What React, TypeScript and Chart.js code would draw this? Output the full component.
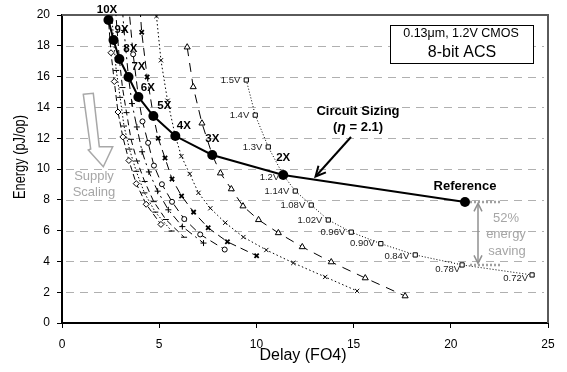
import React, { useEffect, useRef } from "react";
import { Chart, registerables } from "chart.js";

Chart.register(...registerables);

// ---- Circuit sizing curve (1.2V) ----
const sizingLabels = ["10X", "9X", "8X", "7X", "6X", "5X", "4X", "3X", "2X", "Reference"];
const sizingDelay = [2.39, 2.65, 2.95, 3.42, 3.93, 4.7, 5.83, 7.73, 11.38, 20.73];
const sizingEnergy = [19.68, 18.38, 17.14, 15.97, 14.68, 13.44, 12.14, 10.91, 9.61, 7.86];

// ---- Supply scaling curves (one per sizing) ----
const voltageLabels = ["1.5V", "1.4V", "1.3V", "1.2V", "1.14V", "1.08V", "1.02V", "0.96V", "0.90V", "0.84V", "0.78V", "0.72V"];
const delay2X = [9.48, 9.94, 10.61, 11.38, 12.0, 12.82, 13.7, 14.88, 16.4, 18.17, 20.58, 24.18];
const energy2X = [15.78, 13.5, 11.43, 9.61, 8.57, 7.66, 6.69, 5.9, 5.15, 4.42, 3.77, 3.12];
const delay3X = [6.44, 6.75, 7.2, 7.73, 8.15, 8.71, 9.31, 10.11, 11.13, 12.36, 13.85, 15.6, 17.65];
const energy3X = [17.91, 15.33, 12.97, 10.91, 9.73, 8.7, 7.59, 6.7, 5.85, 4.94, 3.96, 2.92, 1.75];
const delay4X = [4.86, 5.09, 5.43, 5.83, 6.14, 6.57, 7.02, 7.63, 8.4, 9.33, 10.51, 11.9, 13.54, 15.18];
const energy4X = [19.93, 17.06, 14.43, 12.14, 10.83, 9.68, 8.45, 7.45, 6.51, 5.58, 4.74, 3.9, 2.99, 2.08];
const delay5X = [3.92, 4.1, 4.38, 4.7, 4.95, 5.3, 5.66, 6.15, 6.77, 7.52, 8.51, 10.01];
const energy5X = [22.07, 18.88, 15.98, 13.44, 11.99, 10.71, 9.35, 8.25, 7.2, 6.18, 5.27, 4.37];
const delay6X = [3.27, 3.43, 3.66, 3.93, 4.14, 4.43, 4.73, 5.14, 5.66, 6.29, 7.11, 8.37];
const energy6X = [24.1, 20.6, 17.45, 14.68, 13.09, 11.7, 10.22, 9.01, 7.87, 6.75, 5.75, 4.77];
const delay7X = [2.85, 2.99, 3.19, 3.42, 3.6, 3.85, 4.12, 4.47, 4.92, 5.47, 6.19, 7.28];
const energy7X = [26.2, 22.4, 19.0, 15.97, 14.25, 12.73, 11.12, 9.81, 8.56, 7.35, 6.26, 5.19];
const delay8X = [2.46, 2.58, 2.75, 2.95, 3.11, 3.32, 3.55, 3.86, 4.25, 4.72, 5.34, 6.28];
const energy8X = [28.1, 24.1, 20.4, 17.14, 15.29, 13.66, 11.93, 10.52, 9.19, 7.88, 6.72, 5.57];
const delay9X = [2.21, 2.31, 2.47, 2.65, 2.79, 2.99, 3.19, 3.47, 3.82, 4.24, 4.8, 5.64];
const energy9X = [30.2, 25.8, 21.85, 18.38, 16.4, 14.65, 12.79, 11.29, 9.85, 8.45, 7.2, 5.97];
const delay10X = [1.99, 2.09, 2.23, 2.39, 2.52, 2.69, 2.88, 3.13, 3.44, 3.82, 4.33, 5.09];
const energy10X = [32.3, 27.65, 23.4, 19.68, 17.55, 15.68, 13.7, 12.08, 10.55, 9.05, 7.71, 6.4];

// ---- Axes ----
const xTicks = [0, 5, 10, 15, 20, 25];
const yTicks = [0, 2, 4, 6, 8, 10, 12, 14, 16, 18, 20];
const xTitle = "Delay (FO4)";
const yTitle = "Energy (pJ/op)";

const FONT = "'Liberation Sans', Arial, Helvetica, sans-serif";

function text(ctx: CanvasRenderingContext2D, s: string, x: number, y: number, font: string, color = "#000", align: CanvasTextAlign = "center") {
  ctx.save();
  ctx.font = font;
  ctx.fillStyle = color;
  ctx.textAlign = align;
  ctx.textBaseline = "middle";
  ctx.fillText(s, x, y);
  ctx.restore();
}

function arrowHead(ctx: CanvasRenderingContext2D, fx: number, fy: number, tx: number, ty: number, len: number, half: number) {
  const ang = Math.atan2(ty - fy, tx - fx);
  const a = Math.atan2(half, len);
  const l = Math.hypot(len, half);
  ctx.beginPath();
  ctx.moveTo(tx - l * Math.cos(ang - a), ty - l * Math.sin(ang - a));
  ctx.lineTo(tx, ty);
  ctx.lineTo(tx - l * Math.cos(ang + a), ty - l * Math.sin(ang + a));
  ctx.stroke();
}

const sizeLabelOffsets = [[-1.5, -10], [8, -10.5], [11, -10], [10, -10], [9.5, -9.5], [11, -10], [8.5, -10], [0, -16], [0, -17.5], [0, -16]];
const voltLabelOffsets = [[-6, 0], [-6, 0], [-6, 0], [-4, 2], [-6, 0], [-6, 0], [-6, 0], [-6, 0], [-6, 0], [-6, 1], [-2, 4], [-4, 3]];

const annotations = {
  id: "annotations",
  beforeDatasetsDraw(chart: any) {
    const { ctx, chartArea: a, scales } = chart;
    const y = scales.y;
    ctx.save();
    ctx.strokeStyle = "#b0b0b0";
    ctx.lineWidth = 1;
    ctx.setLineDash([8, 6]);
    yTicks.forEach((v) => {
      if (v <= 0 || v >= 20) return;
      const py = Math.round(y.getPixelForValue(v)) + 0.5;
      ctx.beginPath();
      ctx.moveTo(a.left + 4, py);
      ctx.lineTo(a.right - 4, py);
      ctx.stroke();
    });
    ctx.setLineDash([]);
    ctx.strokeStyle = "#5a5a5a";
    ctx.lineWidth = 2;
    ctx.beginPath();
    ctx.moveTo(a.left, a.top);
    ctx.lineTo(a.right, a.top);
    ctx.lineTo(a.right, a.bottom);
    ctx.stroke();

    // Supply scaling hollow arrow
    ctx.strokeStyle = "#a8a8a8";
    ctx.fillStyle = "#fff";
    ctx.lineWidth = 1.5;
    ctx.beginPath();
    ctx.moveTo(83.3, 94.3);
    ctx.lineTo(93.3, 93.3);
    ctx.lineTo(99.3, 146.7);
    ctx.lineTo(112.7, 146.7);
    ctx.lineTo(103.3, 166.7);
    ctx.lineTo(88.3, 150);
    ctx.lineTo(90.7, 149);
    ctx.closePath();
    ctx.fill();
    ctx.stroke();
    ctx.restore();
  },
  afterDatasetsDraw(chart: any) {
    const { ctx, scales } = chart;
    const x = scales.x;
    const y = scales.y;
    // voltage labels on the 2X supply curve
    voltageLabels.forEach((s, i) => {
      const px = x.getPixelForValue(delay2X[i]) + voltLabelOffsets[i][0];
      const py = y.getPixelForValue(energy2X[i]) + voltLabelOffsets[i][1];
      text(ctx, s, px, py, `9.5px ${FONT}`, "#222", "right");
    });
    // sizing labels
    sizingLabels.forEach((s, i) => {
      const px = x.getPixelForValue(sizingDelay[i]) + sizeLabelOffsets[i][0];
      const py = y.getPixelForValue(sizingEnergy[i]) + sizeLabelOffsets[i][1];
      text(ctx, s, px, py, `bold ${i === 9 ? 13 : 11.5}px ${FONT}`, "#000");
    });

    ctx.save();
    // Circuit sizing note + arrow
    text(ctx, "Circuit Sizing", 358, 111, `bold 13px ${FONT}`);
    ctx.font = `bold 13px ${FONT}`;
    const p1 = "(", p3 = " = 2.1)";
    ctx.font = `bold 13px ${FONT}`;
    const w1 = ctx.measureText(p1).width, w3 = ctx.measureText(p3).width;
    ctx.font = `italic bold 14px ${FONT}`;
    const w2 = ctx.measureText("η").width;
    let sx = 358 - (w1 + w2 + w3) / 2;
    text(ctx, p1, sx, 127, `bold 13px ${FONT}`, "#000", "left");
    text(ctx, "η", sx + w1, 128, `italic bold 14px ${FONT}`, "#000", "left");
    text(ctx, p3, sx + w1 + w2, 127, `bold 13px ${FONT}`, "#000", "left");
    ctx.strokeStyle = "#000";
    ctx.lineWidth = 2;
    ctx.beginPath();
    ctx.moveTo(351, 137);
    ctx.lineTo(316, 176);
    ctx.stroke();
    arrowHead(ctx, 351, 137, 315.5, 176.5, 10, 5);

    // Supply scaling text
    text(ctx, "Supply", 94, 176, `13px ${FONT}`, "#a6a6a6");
    text(ctx, "Scaling", 94, 192, `13px ${FONT}`, "#a6a6a6");

    // 52% energy saving
    const yRef = y.getPixelForValue(sizingEnergy[9]);
    const yLow = y.getPixelForValue(energy2X[10]);
    ctx.strokeStyle = "#a0a0a0";
    ctx.lineWidth = 2.5;
    ctx.setLineDash([2, 2]);
    ctx.beginPath();
    ctx.moveTo(470, yRef);
    ctx.lineTo(501, yRef);
    ctx.moveTo(470, yLow);
    ctx.lineTo(501, yLow);
    ctx.stroke();
    ctx.setLineDash([]);
    ctx.strokeStyle = "#909090";
    ctx.lineWidth = 1.5;
    ctx.beginPath();
    ctx.moveTo(478, yRef + 2);
    ctx.lineTo(478, yLow - 2);
    ctx.stroke();
    arrowHead(ctx, 478, yLow, 478, yRef + 1.5, 8, 4);
    arrowHead(ctx, 478, yRef, 478, yLow - 1.5, 8, 4);
    text(ctx, "52%", 506, 218, `13px ${FONT}`, "#a6a6a6");
    text(ctx, "energy", 506, 234, `13px ${FONT}`, "#a6a6a6");
    text(ctx, "saving", 507, 251, `13px ${FONT}`, "#a6a6a6");

    // technology box
    ctx.fillStyle = "#fff";
    ctx.fillRect(390, 25, 143, 38);
    ctx.strokeStyle = "#000";
    ctx.lineWidth = 1;
    ctx.strokeRect(390.5, 25.5, 143, 38);
    text(ctx, "0.13μm, 1.2V CMOS", 461, 33.5, `12.5px ${FONT}`);
    text(ctx, "8-bit ACS", 462, 53, `16px ${FONT}`);
    ctx.restore();
  },
  afterDraw(chart: any) {
    const { ctx } = chart;
    text(ctx, xTitle, 303, 356, `16px ${FONT}`);
    ctx.save();
    ctx.translate(21, 157);
    ctx.rotate(-Math.PI / 2);
    ctx.scale(0.8, 1);
    text(ctx, yTitle, 0, 0, `16px ${FONT}`);
    ctx.restore();
  },
};

export default function App() {
  const ref = useRef<HTMLCanvasElement>(null);
  useEffect(() => {
    const canvas = ref.current!;
    const pts = (xs: number[], ys: number[]) => xs.map((v, i) => ({ x: v, y: ys[i] }));
    const curve = (xs: number[], ys: number[], pointStyle: string, dash: number[], extra: any = {}) => ({
      data: pts(xs, ys),
      showLine: true,
      borderColor: "#000",
      borderWidth: 1,
      borderDash: dash,
      pointStyle,
      pointRadius: 3,
      pointBorderColor: "#000",
      pointBackgroundColor: "#fff",
      pointBorderWidth: 1,
      clip: 0,
      tension: 0,
      ...extra,
    });
    const datasets: any[] = [
      {
        data: pts(sizingDelay, sizingEnergy),
        showLine: true,
        borderColor: "#000",
        borderWidth: 2,
        pointRadius: 5,
        pointBackgroundColor: "#000",
        pointBorderColor: "#000",
        pointBorderWidth: 0,
        clip: false,
        tension: 0,
      },
      curve(delay2X, energy2X, "rect", [1, 2]),
      curve(delay3X, energy3X, "triangle", [9, 7], { pointRadius: 3.5 }),
      curve(delay4X, energy4X, "crossRot", [1.5, 2.5]),
      curve(delay5X, energy5X, "crossRot", [8, 5], { pointBorderWidth: 1.8 }),
      curve(delay6X, energy6X, "circle", [8, 5], { pointRadius: 2.5 }),
      curve(delay7X, energy7X, "cross", [8, 4, 2, 4]),
      curve(delay8X, energy8X, "line", [6, 4]),
      curve(delay9X, energy9X, "line", [1.5, 2]),
      curve(delay10X, energy10X, "rectRot", [6, 3]),
    ];
    const chart = new Chart(canvas, {
      type: "scatter",
      data: { datasets },
      plugins: [annotations],
      options: {
        responsive: false,
        animation: false,
        devicePixelRatio: 1,
        layout: { padding: { left: 0, right: 19, top: 15, bottom: 0 } },
        plugins: { legend: { display: false }, tooltip: { enabled: false } },
        scales: {
          x: {
            type: "linear",
            min: 0,
            max: 25,
            afterFit: (s: any) => { s.height = 49; },
            afterBuildTicks: (s: any) => { s.ticks = xTicks.map((v) => ({ value: v })); },
            ticks: { color: "#000", padding: 9, font: { family: FONT, size: 12 }, maxRotation: 0 },
            grid: { drawOnChartArea: false, drawTicks: true, tickLength: 5, tickColor: "#000", tickWidth: 1 },
            border: { display: true, color: "#000", width: 2 },
          },
          y: {
            type: "linear",
            min: 0,
            max: 20,
            afterFit: (s: any) => { s.width = 62; },
            afterBuildTicks: (s: any) => { s.ticks = yTicks.map((v) => ({ value: v })); },
            ticks: { color: "#000", padding: 7, font: { family: FONT, size: 12 } },
            grid: { drawOnChartArea: false, drawTicks: true, tickLength: 5, tickColor: "#000", tickWidth: 1 },
            border: { display: true, color: "#000", width: 2 },
          },
        },
      } as any,
    });
    return () => chart.destroy();
  }, []);
  return (
    <div style={{ position: "absolute", left: 0, top: 0, width: 567, height: 372 }}>
      <canvas ref={ref} width={567} height={372} style={{ width: 567, height: 372, display: "block" }} />
    </div>
  );
}
